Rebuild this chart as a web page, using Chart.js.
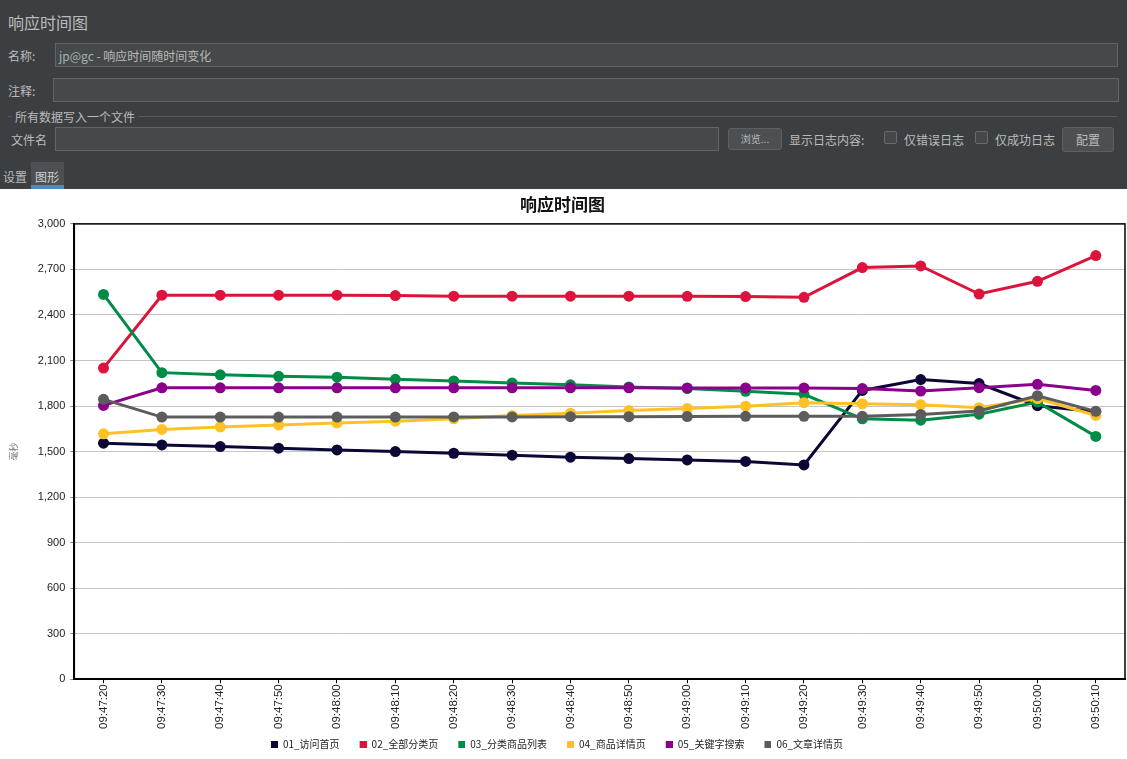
<!DOCTYPE html>
<html>
<head>
<meta charset="utf-8">
<script src="https://cdn.jsdelivr.net/npm/chart.js@4.4.0/dist/chart.umd.min.js"></script>
<style>
  body { margin: 0; width: 1127px; height: 759px; background: #3c3f41; overflow: hidden;
         font-family: "Noto Sans CJK SC", "Noto Sans", sans-serif; color: #bbbbbb; font-size: 12px; }
  .abs { position: absolute; }
  .input { position: absolute; background: #45494a; border: 1px solid #646464; box-sizing: border-box; }
  .btn { position: absolute; background: #4c5052; border: 1px solid #5e6060; border-radius: 3px; box-sizing: border-box;
         text-align: center; color: #bbbbbb; }
  .chk { position: absolute; width: 13px; height: 13px; border: 1px solid #6b6b6b; background: #43494a; box-sizing: border-box; border-radius: 2px; }
  #chartBox { position: absolute; left: 0; top: 189px; width: 1127px; height: 570px; background: #fff; }
</style>
</head>
<body>
<div class="abs" style="left:8px;top:10px;font-size:16px;">响应时间图</div>

<div class="abs" style="left:8px;top:47px;">名称:</div>
<div class="input" style="left:55px;top:43px;width:1063px;height:24px;"></div>
<div class="abs" style="left:59px;top:47px;"><span style="color:#a9b0b6">jp@gc</span> - 响应时间随时间变化</div>

<div class="abs" style="left:8px;top:82px;">注释:</div>
<div class="input" style="left:53px;top:78px;width:1066px;height:24px;"></div>

<div class="abs" style="left:8px;top:116px;width:1109px;height:1px;background:#555859;"></div>
<div class="abs" style="left:12px;top:108px;background:#3c3f41;padding:0 3px;">所有数据写入一个文件</div>

<div class="abs" style="left:11px;top:131px;">文件名</div>
<div class="input" style="left:55px;top:127px;width:664px;height:24px;"></div>
<div class="btn" style="left:728px;top:128px;width:54px;height:22px;font-size:10px;line-height:20px;">浏览...</div>
<div class="abs" style="left:789px;top:131px;">显示日志内容:</div>
<div class="chk" style="left:884px;top:131px;"></div>
<div class="abs" style="left:904px;top:131px;">仅错误日志</div>
<div class="chk" style="left:975px;top:131px;"></div>
<div class="abs" style="left:995px;top:131px;">仅成功日志</div>
<div class="btn" style="left:1062px;top:127px;width:52px;height:25px;line-height:23px;">配置</div>

<div class="abs" style="left:3px;top:168px;">设置</div>
<div class="abs" style="left:31px;top:162px;width:33px;height:27px;background:#4b5053;"></div>
<div class="abs" style="left:31px;top:185px;width:33px;height:4px;background:#4a88c7;"></div>
<div class="abs" style="left:35px;top:168px;color:#d0d0d0;">图形</div>

<div id="chartBox"><canvas id="rtChart"></canvas></div>

<script>
// time labels along the x axis
const timeLabels = ['09:47:20', '09:47:30', '09:47:40', '09:47:50', '09:48:00', '09:48:10',
    '09:48:20', '09:48:30', '09:48:40', '09:48:50', '09:49:00', '09:49:10',
    '09:49:20', '09:49:30', '09:49:40', '09:49:50', '09:50:00', '09:50:10'];

const seriesNames = ['01_访问首页', '02_全部分类页', '03_分类商品列表', '04_商品详情页', '05_关键字搜索', '06_文章详情页'];

// response times in ms
const home = [1555, 1544, 1533, 1522, 1511, 1500, 1489, 1476, 1463, 1454, 1445, 1435, 1412, 1903, 1974, 1948, 1802, 1762];
const allCategories = [2050, 2530, 2530, 2530, 2530, 2528, 2524, 2524, 2524, 2524, 2523, 2521, 2516, 2712, 2723, 2538, 2622, 2791];
const categoryList = [2535, 2020, 2006, 1996, 1990, 1976, 1965, 1952, 1940, 1926, 1915, 1897, 1877, 1716, 1707, 1746, 1826, 1600];
const productDetail = [1617, 1646, 1662, 1675, 1688, 1700, 1716, 1737, 1753, 1770, 1784, 1799, 1822, 1815, 1809, 1789, 1849, 1738];
const keywordSearch = [1804, 1920, 1920, 1920, 1920, 1920, 1920, 1920, 1920, 1920, 1919, 1919, 1919, 1915, 1899, 1921, 1943, 1903];
const articleDetail = [1844, 1727, 1727, 1727, 1727, 1727, 1728, 1728, 1730, 1730, 1731, 1732, 1732, 1732, 1745, 1767, 1868, 1765];

const yTicks = [0, 300, 600, 900, 1200, 1500, 1800, 2100, 2400, 2700, 3000];

const seriesColors = ['#0b0836', '#dc143c', '#008c46', '#ffc125', '#8b008b', '#5c5c5c'];
const seriesData = [home, allCategories, categoryList, productDetail, keywordSearch, articleDetail];

// legend marker: small square with some blank room in front of it
function legendMarker(color) {
    const c = document.createElement('canvas');
    c.width = 18;
    c.height = 7;
    const g = c.getContext('2d');
    g.fillStyle = color;
    g.fillRect(11, 0, 7, 7);
    return c;
}

// black frame around the plot area, legend nudged a bit to the left
const plotFrame = {
    id: 'plotFrame',
    afterLayout(chart) {
        if (chart.legend) {
            chart.legend.left -= 11;
            chart.legend.right -= 11;
        }
    },
    afterDraw(chart) {
        const a = chart.chartArea;
        const ctx = chart.ctx;
        ctx.save();
        ctx.strokeStyle = '#000';
        ctx.lineWidth = 1.5;
        ctx.strokeRect(a.left, a.top, a.right - a.left, a.bottom - a.top);
        ctx.restore();
    }
};

const ctx = document.getElementById('rtChart').getContext('2d');
new Chart(ctx, {
    type: 'line',
    data: {
        labels: timeLabels,
        datasets: seriesNames.map((name, i) => ({
            label: name,
            data: seriesData[i],
            borderColor: seriesColors[i],
            backgroundColor: seriesColors[i],
            borderWidth: 3,
            pointRadius: 5.5,
            pointBorderWidth: 0,
            tension: 0,
            fill: false,
            order: seriesNames.length - i
        }))
    },
    options: {
        responsive: true,
        maintainAspectRatio: false,
        animation: false,
        layout: { autoPadding: false, padding: { left: 0, right: 2, bottom: 0 } },
        plugins: {
            title: {
                display: true,
                text: '响应时间图',
                color: '#111',
                font: { family: 'Noto Sans CJK SC', size: 17, weight: 'bold' },
                padding: { top: 5, bottom: 9.5 }
            },
            legend: {
                position: 'bottom',
                labels: {
                    usePointStyle: true,
                    pointStyleWidth: 18,
                    boxHeight: 7,
                    padding: 9,
                    color: '#222',
                    font: { family: 'Noto Sans CJK SC', size: 10 },
                    sort: (a, b) => a.datasetIndex - b.datasetIndex,
                    generateLabels(chart) {
                        return chart.data.datasets.map((ds, i) => ({
                            text: ds.label,
                            fillStyle: ds.borderColor,
                            strokeStyle: ds.borderColor,
                            pointStyle: legendMarker(ds.borderColor),
                            lineWidth: 0,
                            datasetIndex: i,
                            fontColor: '#222'
                        }));
                    }
                }
            },
            tooltip: { enabled: false }
        },
        scales: {
            x: {
                offset: true,
                grid: { display: true, drawOnChartArea: false, drawTicks: true, tickLength: 4, tickColor: '#000' },
                border: { display: true, color: '#000', width: 2 },
                ticks: {
                    autoSkip: false,
                    maxRotation: 90,
                    minRotation: 90,
                    padding: 1,
                    color: '#222',
                    font: { family: 'Liberation Sans', size: 11.5 }
                }
            },
            y: {
                min: 0,
                max: 3000,
                afterBuildTicks(scale) {
                    scale.ticks = yTicks.map(v => ({ value: v }));
                },
                grid: { color: '#c4c4c4', lineWidth: 1, tickLength: 4, tickColor: '#888' },
                border: { display: true, color: '#000', width: 2 },
                ticks: {
                    color: '#222',
                    font: { family: 'Liberation Sans', size: 11 },
                    padding: 5,
                    callback: v => v.toLocaleString('en-US')
                },
                title: {
                    display: true,
                    text: '毫秒',
                    color: '#777',
                    font: { family: 'Noto Sans CJK SC', size: 9 },
                    padding: { top: 8, bottom: 14 }
                }
            }
        }
    },
    plugins: [plotFrame]
});
</script>
</body>
</html>
